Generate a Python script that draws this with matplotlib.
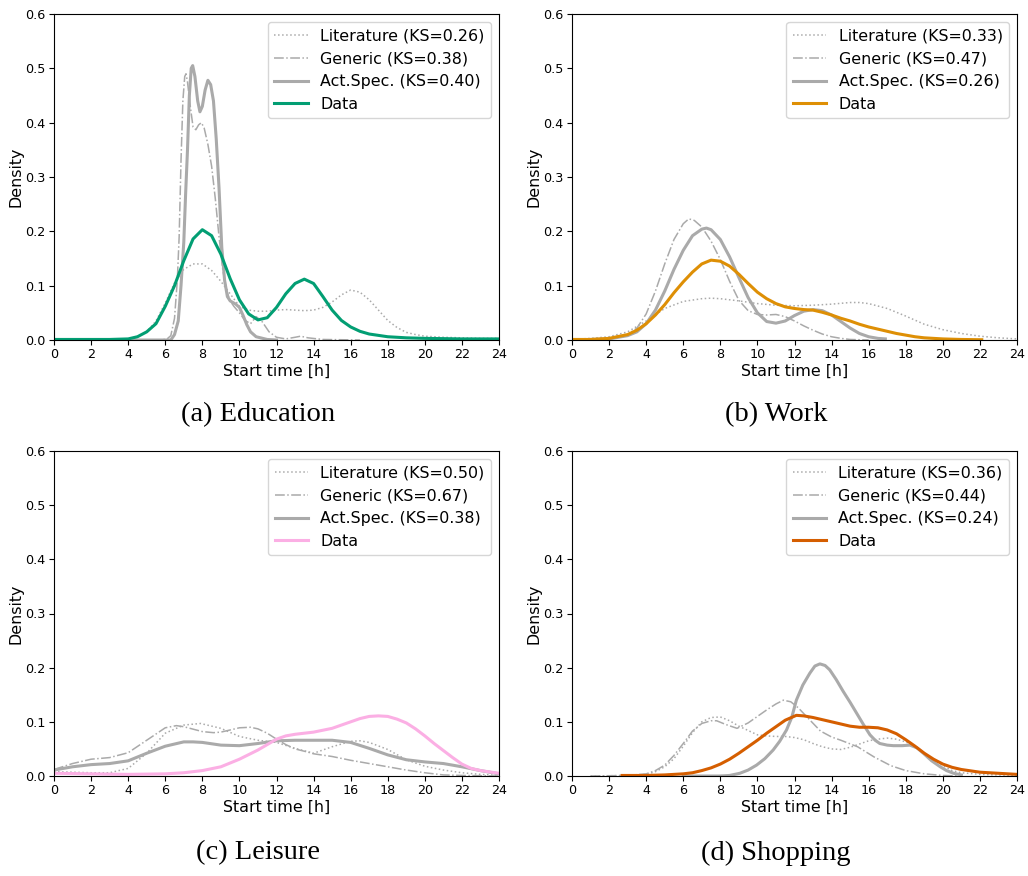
import matplotlib
matplotlib.use("Agg")
import matplotlib.pyplot as plt

# ---------------- data ----------------
# (a) Education
edu_lit_x = [0, 3, 4, 4.5, 5, 5.5, 6, 6.5, 7, 7.5, 8, 8.5, 9, 9.5, 10, 10.5, 11, 11.5, 12, 12.5,
             13, 13.5, 14, 14.5, 15, 15.5, 16, 16.5, 17, 17.5, 18, 18.5, 19, 19.5, 20, 21, 22, 23, 24]
edu_lit = [0, 0.001, 0.002, 0.005, 0.015, 0.035, 0.068, 0.105, 0.13, 0.14, 0.14, 0.128, 0.108, 0.085,
           0.062, 0.055, 0.053, 0.053, 0.055, 0.056, 0.055, 0.054, 0.055, 0.06, 0.07, 0.083, 0.092,
           0.088, 0.074, 0.055, 0.036, 0.023, 0.014, 0.01, 0.007, 0.005, 0.004, 0.003, 0.003]
edu_gen_x = [0, 5.8, 6.1, 6.3, 6.5, 6.65, 6.75, 6.85, 6.95, 7.05, 7.12, 7.2, 7.35, 7.5, 7.65, 7.8,
             7.95, 8.1, 8.3, 8.5, 8.7, 8.9, 9.1, 9.3, 9.5, 9.7, 10.0, 10.3, 10.6, 10.9, 11.2, 11.6,
             12.0, 12.5, 13.0, 13.3, 13.7, 14.5, 16.5]
edu_gen = [0, 0, 0.002, 0.008, 0.04, 0.11, 0.19, 0.33, 0.44, 0.485, 0.49, 0.475, 0.43, 0.392, 0.387,
           0.396, 0.4, 0.39, 0.36, 0.32, 0.26, 0.19, 0.13, 0.092, 0.072, 0.062, 0.05, 0.036, 0.03,
           0.043, 0.035, 0.015, 0.005, 0.002, 0.005, 0.007, 0.004, 0.001, 0]
edu_act_x = [0, 6.3, 6.5, 6.7, 6.85, 7.0, 7.1, 7.2, 7.3, 7.4, 7.48, 7.6, 7.75, 7.87, 8.0, 8.15, 8.3,
             8.45, 8.6, 8.75, 8.9, 9.05, 9.2, 9.35, 9.5, 9.8, 10.0, 10.2, 10.4, 10.6, 10.9, 11.5, 12.0]
edu_act = [0, 0, 0.01, 0.035, 0.1, 0.18, 0.27, 0.35, 0.45, 0.5, 0.505, 0.485, 0.44, 0.42, 0.43, 0.46,
           0.478, 0.47, 0.44, 0.37, 0.28, 0.17, 0.11, 0.08, 0.072, 0.066, 0.06, 0.045, 0.028, 0.015,
           0.006, 0.001, 0]
edu_data_x = [0, 3, 4, 4.5, 5, 5.5, 6, 6.5, 7, 7.5, 8, 8.5, 9, 9.5, 10, 10.5, 11, 11.5, 12, 12.5,
              13, 13.5, 14, 14.5, 15, 15.5, 16, 16.5, 17, 18, 19, 20, 22, 24]
edu_data = [0.001, 0.001, 0.002, 0.006, 0.015, 0.03, 0.062, 0.1, 0.146, 0.186, 0.203, 0.192, 0.158,
            0.113, 0.074, 0.048, 0.037, 0.041, 0.06, 0.085, 0.104, 0.112, 0.104, 0.08, 0.055, 0.036,
            0.024, 0.016, 0.011, 0.006, 0.004, 0.003, 0.002, 0.002]

# (b) Work
work_lit_x = [0, 1, 2, 3, 4, 5, 6, 7, 7.5, 8, 9, 10, 11, 12, 13, 14, 15, 15.5, 16, 17, 18, 19, 20,
              21, 22, 23, 24]
work_lit = [0.001, 0.003, 0.006, 0.015, 0.035, 0.058, 0.071, 0.076, 0.077, 0.076, 0.072, 0.067, 0.064,
            0.063, 0.064, 0.066, 0.069, 0.069, 0.067, 0.058, 0.044, 0.029, 0.019, 0.012, 0.007,
            0.004, 0.002]
work_gen_x = [0, 2, 3, 3.5, 4, 4.5, 5, 5.5, 6, 6.3, 6.6, 7, 7.5, 8, 8.5, 9, 9.5, 10, 10.5, 11, 11.5,
              12, 12.5, 13, 13.5, 14, 14.5, 15, 16]
work_gen = [0, 0.002, 0.01, 0.022, 0.048, 0.09, 0.14, 0.185, 0.214, 0.223, 0.22, 0.208, 0.182, 0.148,
            0.108, 0.073, 0.054, 0.047, 0.046, 0.047, 0.043, 0.035, 0.026, 0.018, 0.011, 0.006,
            0.003, 0.001, 0]
work_act_x = [0, 1, 2, 3, 3.5, 4, 4.5, 5, 5.5, 6, 6.5, 7, 7.25, 7.5, 8, 8.5, 9, 9.5, 10, 10.5, 11,
              11.5, 12, 12.5, 13, 13.5, 14, 14.5, 15, 15.5, 16, 16.5, 16.9]
work_act = [0, 0.001, 0.002, 0.008, 0.015, 0.03, 0.055, 0.09, 0.13, 0.165, 0.192, 0.204, 0.206, 0.203,
            0.185, 0.153, 0.115, 0.078, 0.05, 0.034, 0.031, 0.035, 0.045, 0.053, 0.056, 0.054,
            0.046, 0.034, 0.022, 0.012, 0.006, 0.003, 0.002]
work_data_x = [0, 1, 2, 3, 3.5, 4, 4.5, 5, 5.5, 6, 6.5, 7, 7.5, 8, 8.5, 9, 9.5, 10, 10.5, 11, 11.5,
               12, 12.5, 13, 13.5, 14, 14.5, 15, 15.5, 16, 16.5, 17, 17.5, 18, 18.5, 19, 20, 21, 22.1]
work_data = [0.001, 0.001, 0.003, 0.01, 0.018, 0.03, 0.046, 0.065, 0.087, 0.107, 0.125, 0.14, 0.147,
             0.145, 0.136, 0.121, 0.104, 0.088, 0.076, 0.067, 0.061, 0.058, 0.056, 0.055, 0.051,
             0.046, 0.04, 0.035, 0.029, 0.024, 0.02, 0.016, 0.012, 0.009, 0.006, 0.004, 0.002,
             0.001, 0.0005]

# (c) Leisure
leis_lit_x = [0, 1, 2, 3, 4, 5, 6, 7, 7.9, 9, 10, 11, 12, 13, 14, 15, 16, 16.5, 17, 18, 19, 20, 21,
              22, 23, 24]
leis_lit = [0.008, 0.007, 0.006, 0.006, 0.014, 0.042, 0.079, 0.094, 0.097, 0.088, 0.073, 0.066, 0.062,
            0.051, 0.042, 0.054, 0.064, 0.065, 0.062, 0.049, 0.03, 0.018, 0.011, 0.006, 0.003, 0.001]
leis_gen_x = [0, 1, 2, 3, 4, 5, 6, 6.6, 7, 8, 8.6, 9, 10, 10.6, 11, 11.5, 12, 12.5, 13, 13.7, 14,
              15, 16, 17, 18, 19, 20, 21, 22, 24]
leis_gen = [0.012, 0.023, 0.031, 0.034, 0.043, 0.066, 0.089, 0.093, 0.091, 0.082, 0.08, 0.081, 0.089,
            0.09, 0.087, 0.079, 0.068, 0.058, 0.05, 0.044, 0.041, 0.036, 0.029, 0.023, 0.017,
            0.011, 0.006, 0.002, 0.001, 0]
leis_act_x = [0, 1, 2, 3, 4, 5, 6, 7, 7.5, 8, 9, 10, 11, 12, 13, 14, 15, 16, 17, 18, 19, 20, 21,
              22, 23, 24]
leis_act = [0.011, 0.017, 0.021, 0.023, 0.028, 0.042, 0.055, 0.063, 0.063, 0.062, 0.057, 0.056, 0.06,
            0.065, 0.066, 0.066, 0.066, 0.062, 0.051, 0.039, 0.03, 0.026, 0.023, 0.017, 0.01, 0.004]
leis_data_x = [0, 2, 4, 6, 7, 8, 9, 10, 11, 12, 12.5, 13, 14, 15, 16, 16.5, 17, 17.5, 18, 18.5, 19,
               19.5, 20, 20.5, 21, 21.5, 22, 22.5, 23, 24]
leis_data = [0.005, 0.004, 0.003, 0.004, 0.006, 0.01, 0.017, 0.031, 0.048, 0.068, 0.074, 0.077, 0.081,
             0.088, 0.1, 0.106, 0.11, 0.111, 0.11, 0.105, 0.098, 0.087, 0.074, 0.06, 0.047, 0.034,
             0.022, 0.014, 0.01, 0.005]

# (d) Shopping
shop_lit_x = [1, 3, 4, 4.5, 5, 5.5, 6, 6.5, 7, 7.5, 8, 8.5, 9, 10, 10.5, 11, 11.5, 12, 12.5, 13,
              13.5, 14, 14.5, 15, 15.5, 16, 16.5, 17, 17.5, 18, 18.5, 19, 19.5, 20, 20.5, 21, 22, 23, 24]
shop_lit = [0, 0.001, 0.003, 0.008, 0.017, 0.032, 0.055, 0.08, 0.1, 0.108, 0.109, 0.102, 0.092, 0.076,
            0.074, 0.073, 0.073, 0.071, 0.067, 0.06, 0.054, 0.05, 0.049, 0.053, 0.059, 0.065,
            0.068, 0.07, 0.068, 0.063, 0.054, 0.042, 0.03, 0.019, 0.01, 0.006, 0.003, 0.002, 0.001]
shop_gen_x = [1, 3, 4, 4.5, 5, 5.5, 6, 6.5, 7, 7.5, 7.8, 8.3, 8.9, 9.5, 10, 10.5, 11, 11.4, 11.8,
              12.2, 12.7, 13.4, 14, 14.5, 15.4, 16.3, 17.2, 18, 19, 20, 21]
shop_gen = [0, 0.001, 0.004, 0.01, 0.02, 0.038, 0.06, 0.083, 0.097, 0.102, 0.102, 0.095, 0.088, 0.098,
            0.11, 0.122, 0.133, 0.14, 0.137, 0.126, 0.108, 0.083, 0.072, 0.066, 0.054, 0.035,
            0.019, 0.01, 0.004, 0.001, 0]
shop_act_x = [6, 7.96, 8.5, 9.05, 9.5, 9.95, 10.4, 10.85, 11.2, 11.57, 11.85, 12.1, 12.45, 12.83,
              13.1, 13.37, 13.65, 13.9, 14.25, 14.63, 15.0, 15.35, 15.7, 16.07, 16.35, 16.6, 17.0,
              17.33, 17.8, 18.23, 18.6, 18.95, 19.4, 19.86, 20.2, 20.58, 21.0]
shop_act = [0, 0, 0.001, 0.005, 0.011, 0.02, 0.032, 0.048, 0.064, 0.085, 0.108, 0.14, 0.168, 0.19,
            0.203, 0.207, 0.204, 0.196, 0.178, 0.156, 0.136, 0.116, 0.096, 0.076, 0.066, 0.06,
            0.057, 0.056, 0.056, 0.057, 0.052, 0.042, 0.028, 0.017, 0.01, 0.005, 0.002]
shop_data_x = [2.7, 4, 5, 6, 6.5, 7, 7.5, 8, 8.5, 9, 9.5, 10, 10.5, 11, 11.5, 12.1, 12.5, 13, 13.5,
               14, 14.5, 15, 15.5, 16, 16.5, 17, 17.5, 18, 18.5, 19, 19.5, 20, 20.5, 21, 22, 23, 24]
shop_data = [0.001, 0.001, 0.002, 0.004, 0.006, 0.01, 0.015, 0.022, 0.031, 0.042, 0.054, 0.066, 0.079,
             0.091, 0.103, 0.112, 0.111, 0.108, 0.104, 0.1, 0.096, 0.092, 0.09, 0.09, 0.089, 0.085,
             0.078, 0.067, 0.055, 0.042, 0.031, 0.022, 0.016, 0.012, 0.007, 0.005, 0.003]

captions = ["(a) Education", "(b) Work", "(c) Leisure", "(d) Shopping"]
ks_values = [[0.26, 0.38, 0.40], [0.33, 0.47, 0.26], [0.50, 0.67, 0.38], [0.36, 0.44, 0.24]]
data_colors = ["#029e73", "#de8f05", "#fbafe4", "#d55e00"]
xticks = list(range(0, 25, 2))

panels = [
    (edu_lit_x, edu_lit, edu_gen_x, edu_gen, edu_act_x, edu_act, edu_data_x, edu_data),
    (work_lit_x, work_lit, work_gen_x, work_gen, work_act_x, work_act, work_data_x, work_data),
    (leis_lit_x, leis_lit, leis_gen_x, leis_gen, leis_act_x, leis_act, leis_data_x, leis_data),
    (shop_lit_x, shop_lit, shop_gen_x, shop_gen, shop_act_x, shop_act, shop_data_x, shop_data),
]

# ---------------- figure ----------------
W, H = 1028, 876
fig = plt.figure(figsize=(W / 100, H / 100), dpi=100)

# axes boxes in pixels: left, top, right, bottom
boxes = [(54, 14, 499, 340), (572, 14, 1017, 340), (54, 451, 499, 776), (572, 451, 1017, 776)]
caption_pos = [(258, 415), (776, 415), (258, 853), (776, 853)]
gray = "#aaaaaa"

for i, (lx, ly, gx, gy, ax_, ay, dx, dy) in enumerate(panels):
    l, t, r, b = boxes[i]
    ax = fig.add_axes([l / W, 1 - b / H, (r - l) / W, (b - t) / H])
    ks = ks_values[i]
    ax.plot(lx, ly, color=gray, lw=1.1, ls=":", label=f"Literature (KS={ks[0]:.2f})")
    ax.plot(gx, gy, color=gray, lw=1.1, ls="-.", label=f"Generic (KS={ks[1]:.2f})")
    ax.plot(ax_, ay, color=gray, lw=2.2, label=f"Act.Spec. (KS={ks[2]:.2f})")
    ax.plot(dx, dy, color=data_colors[i], lw=2.2, label="Data")
    ax.set_xlim(0, 24)
    ax.set_ylim(0, 0.6)
    ax.set_xticks(xticks)
    ax.tick_params(labelsize=9.2, length=3.5, pad=2.5)
    ax.set_xlabel("Start time [h]", fontsize=11.4, labelpad=2)
    ax.set_ylabel("Density", fontsize=11.4, labelpad=1)
    ax.legend(loc="upper right", fontsize=11.4, handlelength=2.1)
    cx, cy = caption_pos[i]
    fig.text(cx / W, 1 - cy / H, captions[i], ha="center", va="center",
             family="Liberation Serif", fontsize=20.5)

fig.savefig("out.png", dpi=100)
